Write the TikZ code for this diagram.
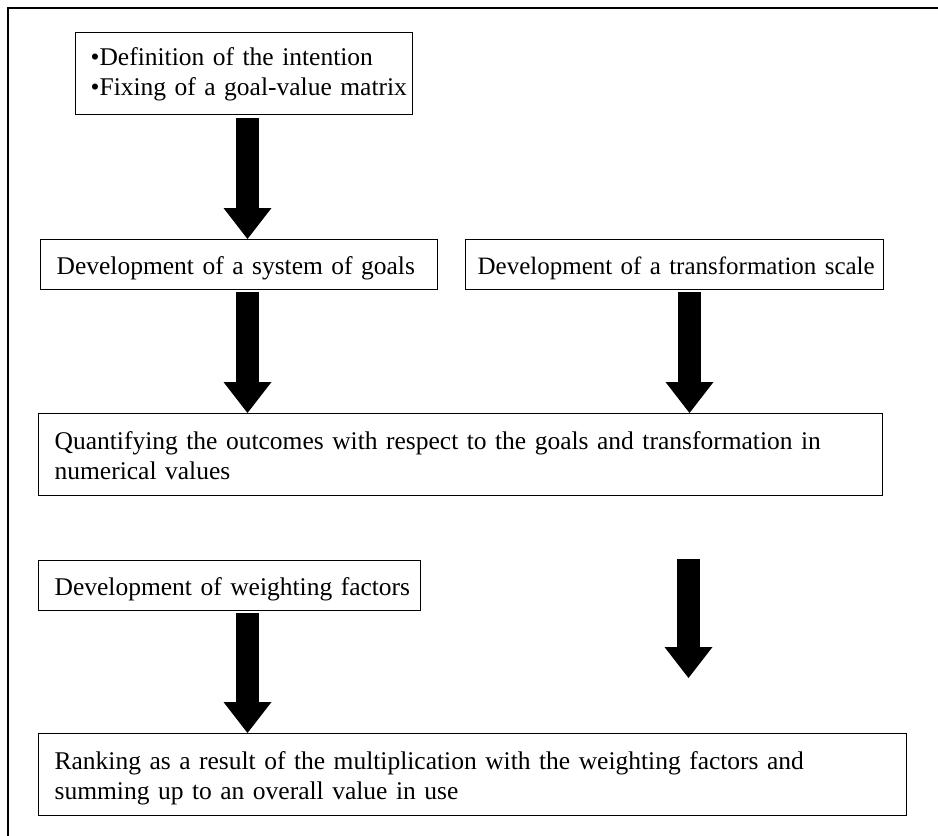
\documentclass[tikz,border=0pt]{standalone}
\usepackage{fontspec}
\setmainfont{Liberation Serif}
\usetikzlibrary{arrows.meta}

\tikzset{
  stepbox/.style={draw=black, line width=1.3pt, rectangle, inner xsep=16pt,
    inner ysep=0pt, align=left, anchor=north west,
    font=\fontsize{25.5}{30}\selectfont},
  oneline/.style={text height=35pt, text depth=15pt},
  twoline/.style={text height=36pt, text depth=46pt},
  blockarrow/.style={line width=23pt,
    -{Triangle[length=31pt 0, width=48pt 0, line width=0pt 0]}},
  frameline/.style={line width=2.2pt}
}

\begin{document}
\begin{tikzpicture}[x=1pt, y=-1pt]
  \useasboundingbox (0,0) rectangle (938,836);
  % outer frame, running past the right and bottom edges
  \begin{scope}
    \clip (0,0) rectangle (938,836);
    \draw[frameline] (8,900) -- (8,8) -- (1000,8);
  \end{scope}

  % boxes: top-left corner and fixed width
  \node[stepbox, text height=33pt, text depth=49pt, inner xsep=15pt, text width=307pt] (b1) at (75,32)
    {\mbox{•Definition of the intention}\\\mbox{•Fixing of a goal-value matrix}};
  \node[stepbox, oneline, text width=365pt] (b2) at (40,239)
    {\mbox{Development of a system of goals}};
  \node[stepbox, oneline, inner xsep=12pt, text width=394pt,
    font=\fontsize{25}{30}\selectfont] (b3) at (465,239)
    {\mbox{Development of a transformation scale}};
  \node[stepbox, twoline, text width=812pt] (b4) at (38,413)
    {\mbox{Quantifying the outcomes with respect to the goals and transformation in}\\\mbox{numerical values}};
  \node[stepbox, oneline, text width=350pt] (b5) at (38,560)
    {\mbox{Development of weighting factors}};
  \node[stepbox, twoline, text width=836pt] (b6) at (38,733)
    {\mbox{Ranking as a result of the multiplication with the weighting factors and}\\\mbox{summing up to an overall value in use}};

  % arrow start points
  \coordinate (a1) at (247.5,118);
  \coordinate (a2) at (247.5,292);
  \coordinate (a3) at (689.5,292);
  \coordinate (a4) at (688.5,559);
  \coordinate (a4end) at (688.5,678);
  \coordinate (a5) at (247.5,613);

  \draw[blockarrow] (a1) -- (a1 |- b2.north);
  \draw[blockarrow] (a2) -- (a2 |- b4.north);
  \draw[blockarrow] (a3) -- (a3 |- b4.north);
  \draw[blockarrow] (a4) -- (a4end);
  \draw[blockarrow] (a5) -- (a5 |- b6.north);
\end{tikzpicture}
\end{document}
